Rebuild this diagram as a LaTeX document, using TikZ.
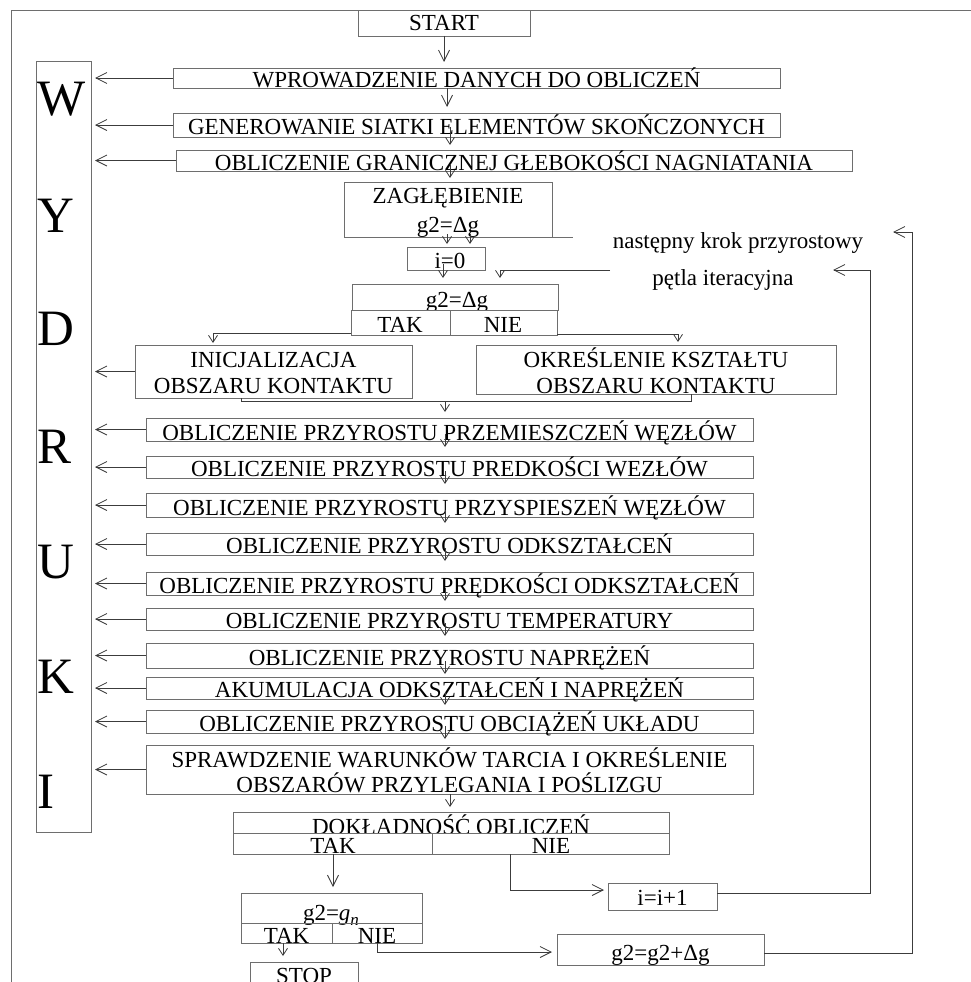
\documentclass[tikz,border=0pt]{standalone}
\usepackage{fontspec}
\setmainfont{Liberation Serif}
\usetikzlibrary{arrows.meta,calc}
\definecolor{boxc}{RGB}{110,110,110}
\definecolor{linec}{RGB}{60,60,60}
\tikzset{
 boxs/.style={draw=boxc,line width=0.8pt,inner sep=0pt,outer sep=0pt,rectangle},
 txt/.style={inner sep=0pt,outer sep=0pt,anchor=base,font=\fontsize{23}{25}\selectfont},
 bigl/.style={font=\fontsize{51}{51}\selectfont,inner sep=0pt,outer sep=0pt,anchor=base west},
 conn/.style={draw=linec,line width=0.8pt},
 arr/.style={conn,-{Straight Barb[length=11pt,width=11pt]}},
 sarr/.style={conn,-{Straight Barb[length=7pt,width=9pt]}},
}
\newcommand\mybx[6][]{%
 \pgfmathsetmacro\bxw{#5-#3}\pgfmathsetmacro\bxh{#6-#4}%
 \node[boxs,minimum width=\bxw pt,minimum height=\bxh pt,#1] (#2) at ({(#3+#5)/2},{(#4+#6)/2}) {};}
\newcommand\mytx[4]{\node[txt] (#1) at (#2,#3) {#4};}
\begin{document}
\begin{tikzpicture}[x=1pt,y=-1pt]
\useasboundingbox (0,0) rectangle (971,982);
\clip (0,0) rectangle (971,982);
% frame
\draw[boxc,line width=0.8pt] (11,982) -- (11,10) -- (971,10);
% WYDRUKI
\mybx{wyd}{36}{61}{91}{832}
\node[bigl] (lW) at (37,115) {W};
\node[bigl] (lY) at (37,232) {Y};
\node[bigl] (lD) at (37,345) {D};
\node[bigl] (lR) at (37,463) {R};
\node[bigl] (lU) at (37,578) {U};
\node[bigl] (lK) at (37,693) {K};
\node[bigl] (lI) at (37,808) {I};
% top boxes
\mybx{start}{358}{10}{530}{36}
\mytx{tstart}{444}{31}{START}
\mybx{b0a}{173}{68}{780}{88}
\mytx{t0a}{476.5}{87}{WPROWADZENIE DANYCH DO OBLICZEŃ}
\mybx{b0b}{173}{113}{780}{137}
\mytx{t0b}{476.5}{134}{GENEROWANIE SIATKI ELEMENTÓW SKOŃCZONYCH}
\mybx{b0c}{176}{150}{852}{171}
\mytx{t0c}{514}{170}{OBLICZENIE GRANICZNEJ GŁEBOKOŚCI NAGNIATANIA}
\mybx{zag}{344}{182}{552}{237}
\mytx{tzag1}{448}{203}{ZAGŁĘBIENIE}
\mytx{tzag2}{448}{232}{g2=Δg}
\draw[boxc,line width=0.8pt] (zag.south east) -- ++(21,0) coordinate (zagx);
\mybx{i0}{407}{247}{485}{270}
\mytx{ti0}{450}{268}{i=0}
% decision g2=dg
\mybx{d1a}{352}{284}{558}{310}
\mytx{td1}{457}{307}{g2=Δg}
\mybx[fill=white]{d1b}{351}{310}{557}{335}
\draw[boxc,line width=0.8pt] (450,310) -- (450,335);
\mytx{td1t}{400}{332}{TAK}
\mytx{td1n}{503}{332}{NIE}
% contact boxes
\mybx{ini}{135}{345}{412}{398}
\mytx{tini1}{273.5}{367}{INICJALIZACJA}
\mytx{tini2}{273.5}{393}{OBSZARU KONTAKTU}
\mybx{okr}{476}{345}{836}{394}
\mytx{tokr1}{656}{367}{OKREŚLENIE KSZTAŁTU}
\mytx{tokr2}{656}{393}{OBSZARU KONTAKTU}
% lower boxes
\mybx{b1}{146}{418}{753}{441}
\mytx{t1}{449.5}{440}{OBLICZENIE PRZYROSTU PRZEMIESZCZEŃ WĘZŁÓW}
\mybx{b2}{146}{456}{753}{478}
\mytx{t2}{449.5}{476}{OBLICZENIE PRZYROSTU PREDKOŚCI WEZŁÓW}
\mybx{b3}{146}{493}{753}{517}
\mytx{t3}{449.5}{515}{OBLICZENIE PRZYROSTU PRZYSPIESZEŃ WĘZŁÓW}
\mybx{b4}{146}{533}{753}{555}
\mytx{t4}{449.5}{553}{OBLICZENIE PRZYROSTU ODKSZTAŁCEŃ}
\mybx{b5}{146}{572}{753}{595}
\mytx{t5}{449.5}{593}{OBLICZENIE PRZYROSTU PRĘDKOŚCI ODKSZTAŁCEŃ}
\mybx{b6}{146}{608}{753}{630}
\mytx{t6}{449.5}{628}{OBLICZENIE PRZYROSTU TEMPERATURY}
\mybx{b7}{146}{643}{753}{668}
\mytx{t7}{449.5}{665}{OBLICZENIE PRZYROSTU NAPRĘŻEŃ}
\mybx{b8}{146}{677}{753}{699}
\mytx{t8}{449.5}{697}{AKUMULACJA ODKSZTAŁCEŃ I NAPRĘŻEŃ}
\mybx{b9}{146}{710}{753}{733}
\mytx{t9}{449.5}{731}{OBLICZENIE PRZYROSTU OBCIĄŻEŃ UKŁADU}
\mybx{b10}{146}{745}{753}{794}
\mytx{t10a}{449.5}{767}{SPRAWDZENIE WARUNKÓW TARCIA I OKREŚLENIE}
\mytx{t10b}{449.5}{792}{OBSZARÓW PRZYLEGANIA I POŚLIZGU}
% accuracy decision
\mybx{dka}{233}{812}{669}{833}
\mytx{tdk}{451}{834}{DOKŁADNOŚĆ OBLICZEŃ}
\mybx[fill=white]{dkb}{233}{833}{669}{854}
\draw[boxc,line width=0.8pt] (432,833) -- (432,854);
\mytx{tdkt}{333}{853}{TAK}
\mytx{tdkn}{551}{853}{NIE}
\mybx{ii}{608}{883}{717}{910}
\mytx{tii}{662.5}{905}{i=i+1}
% g2 = gn decision
\mybx{gna}{241}{893}{422}{923}
\mytx{tgn}{331}{920}{g2=\textit{g}\raisebox{-0.22em}{\fontsize{17}{17}\selectfont\itshape n}}
\mybx{gnb}{241}{923}{422}{943}
\draw[boxc,line width=0.8pt] (332,923) -- (332,943);
\mytx{tgnt}{286.5}{943}{TAK}
\mytx{tgnn}{377}{943}{NIE}
\mybx{stop}{250}{962}{358}{1000}
\mytx{tstop}{304}{983}{STOP}
\mybx{gg}{557}{934}{764}{965}
\mytx{tgg}{660.5}{960}{g2=g2+Δg}
% loop labels
\mytx{lnext}{738}{248}{następny krok przyrostowy}
\mytx{lpetla}{723}{285}{pętla iteracyjna}
% main chain connectors
\draw[arr] (start.south) -- ++(0,26);
\draw[arr] ($(b0a.south)+(-29.5,0)$) -- ++(0,19);
\draw[sarr] ($(b0b.south)+(-26.5,-10)$) -- ++(0,18);
\draw[sarr] ($(b0c.south)+(-64,-6)$) -- ++(0,13);
\draw[sarr] ($(zag.south)+(-1,-3)$) -- ++(0,10);
\draw[sarr] ($(zag.south)+(22,-3)$) -- ++(0,10);
\draw[sarr] ($(i0.south)+(-3,-6)$) -- ++(0,14);
\coordinate (pin) at (610,270);
\draw[sarr] (pin) -- (500,270) -- (500,278);
\draw[sarr] ($(d1b.south west)+(0,-2)$) -| ($(ini.north west)+(78,-2)$);
\draw[sarr] ($(d1b.south east)+(0,-1)$) -| ($(okr.north west)+(202,-3)$);
\draw[conn] ($(ini.south west)+(106,0)$) |- ($(okr.south west)+(215,7)$) -- ($(okr.south west)+(215,0)$);
\draw[sarr] ($(b1.north)+(-4.5,-17)$) -- ($(b1.north)+(-4.5,-6)$);
\foreach \b in {b1,b2,b3,b4,b5,b6,b7,b8,b9}{
  \draw[sarr] ($(\b.south)+(-4.5,-7)$) -- ++(0,13);
}
\draw[sarr] ($(b10.south)+(0.5,0)$) -- ++(0,13);
\draw[arr] ($(dkb.south west)+(100,0)$) -- ($(gna.north west)+(92,-6)$);
\draw[arr] ($(dkb.south west)+(277,0)$) |- ($(ii.west)+(-4,-6.5)$);
\draw[sarr] ($(gnb.south west)+(42,0)$) -- ($(stop.north west)+(33,-6)$);
\draw[arr] ($(gnb.south west)+(136,0)$) |- ($(gg.west)+(-5,2.5)$);
% loops
\coordinate (lp1) at (833,270);
\coordinate (lp2) at (893,232);
\draw[arr] ($(ii.east)+(0,-3.5)$) -| (870,270) -- (lp1);
\draw[arr] ($(gg.east)+(0,3.5)$) -| (912,232) -- (lp2);
% outputs to WYDRUKI
\foreach \b in {b0a,b0b,b0c,ini,b1,b2,b3,b4,b5,b6,b7,b8,b9,b10}{
  \draw[arr] (\b.west) -- ($(\b.west -| wyd.east)+(4,0)$);
}
\end{tikzpicture}
\end{document}
